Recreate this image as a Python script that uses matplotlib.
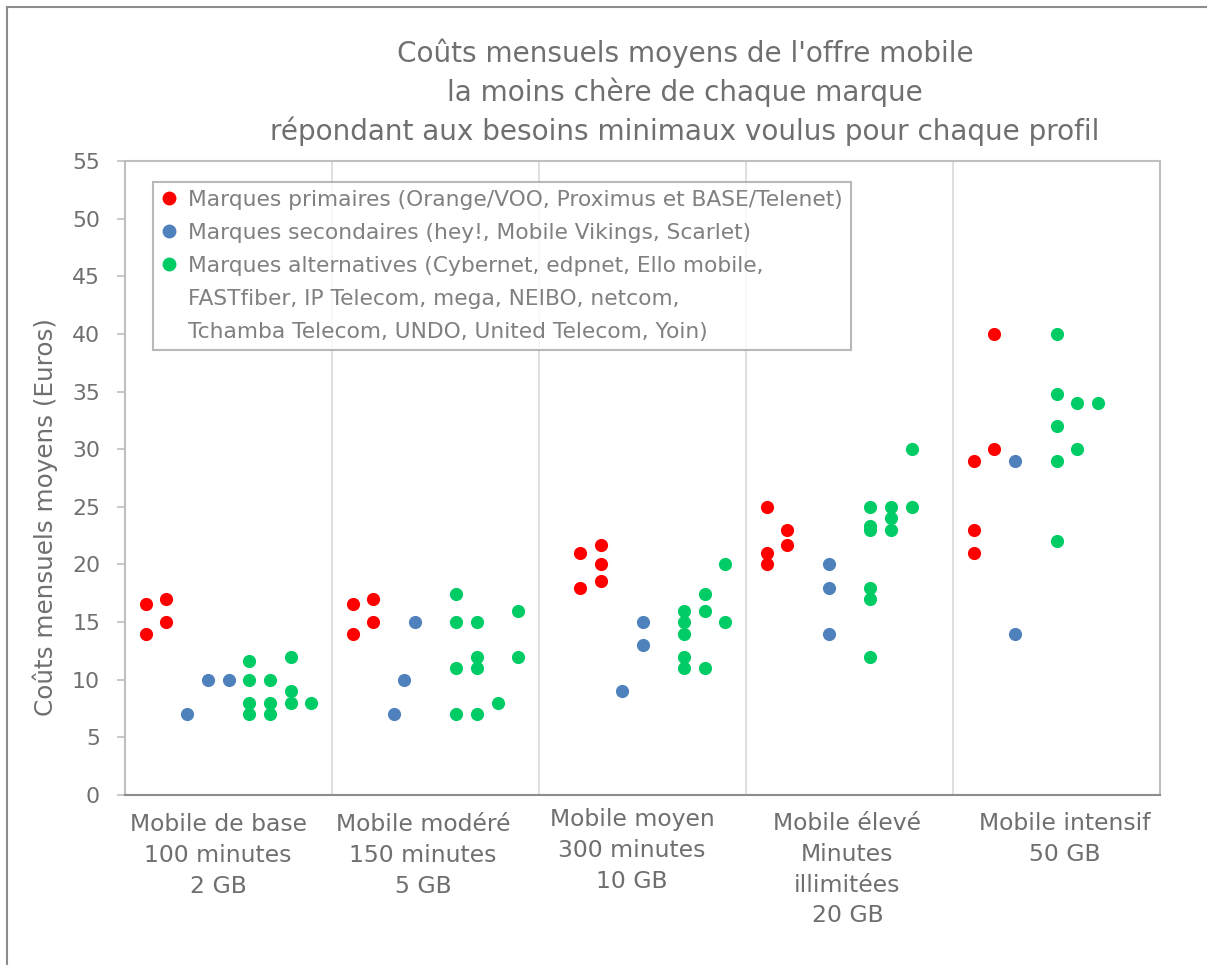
import matplotlib
matplotlib.use("Agg")
import matplotlib.pyplot as plt
from matplotlib.lines import Line2D
from matplotlib import transforms

# ---- data (x slot = tenth of a category, value in euros) ----
categories = [
    "Mobile de base\n100 minutes\n2 GB",
    "Mobile modéré\n150 minutes\n5 GB",
    "Mobile moyen\n300 minutes\n10 GB",
    "Mobile élevé\nMinutes\nillimitées\n20 GB",
    "Mobile intensif\n50 GB",
]

primary_cat = [0, 0, 0, 0, 1, 1, 1, 1, 2, 2, 2, 2, 2, 3, 3, 3, 3, 3, 4, 4, 4, 4, 4]
primary_slot = [1, 1, 2, 2, 1, 1, 2, 2, 2, 2, 3, 3, 3, 1, 1, 1, 2, 2, 1, 1, 1, 2, 2]
primary_val = [16.6, 14, 17, 15, 16.6, 14, 17, 15, 21, 18, 21.7, 20, 18.6,
               25, 21, 20, 23, 21.7, 29, 23, 21, 40, 30]

secondary_cat = [0, 0, 0, 1, 1, 1, 2, 2, 2, 3, 3, 3, 4, 4]
secondary_slot = [3, 4, 5, 3, 3.5, 4, 4, 5, 5, 4, 4, 4, 3, 3]
secondary_val = [7, 10, 10, 7, 10, 15, 9, 15, 13, 20, 18, 14, 29, 14]

alt_cat = ([0] * 11 + [1] * 11 + [2] * 10 + [3] * 11 + [4] * 8)
alt_slot = ([6, 6, 6, 6, 7, 7, 7, 8, 8, 8, 9,
             6, 6, 6, 6, 7, 7, 7, 7, 8, 9, 9,
             7, 7, 7, 7, 7, 8, 8, 8, 9, 9,
             6, 6, 6, 6, 6, 6, 7, 7, 7, 8, 8,
             5, 5, 5, 5, 5, 6, 6, 7])
alt_val = ([11.6, 10, 8, 7, 10, 8, 7, 12, 9, 8, 8,
            17.4, 15, 11, 7, 15, 12, 11, 7, 8, 16, 12,
            16, 15, 14, 12, 11, 17.4, 16, 11, 20, 15,
            25, 23.3, 23, 18, 17, 12, 25, 24, 23, 30, 25,
            40, 34.8, 32, 29, 22, 34, 30, 34])

legend_labels = [
    "Marques primaires (Orange/VOO, Proximus et BASE/Telenet)",
    "Marques secondaires (hey!, Mobile Vikings, Scarlet)",
    "Marques alternatives (Cybernet, edpnet, Ello mobile,",
    "FASTfiber, IP Telecom, mega, NEIBO, netcom,",
    "Tchamba Telecom, UNDO, United Telecom, Yoin)",
]

title = ("Coûts mensuels moyens de l'offre mobile\n"
         "la moins chère de chaque marque\n"
         "répondant aux besoins minimaux voulus pour chaque profil")

RED = "#ff0000"
BLUE = "#4f81bd"
GREEN = "#00cc66"
TXT = "#6f6f6f"
AXC = "#bfbfbf"

plt.rcParams['font.family'] = ['DejaVu Sans']

fig = plt.figure(figsize=(12.07, 9.65), dpi=100)
ax = fig.add_axes([125 / 1207, 1 - 795 / 965, 1035 / 1207, 634 / 965])


def xs(cats, slots):
    return [c + s / 10 for c, s in zip(cats, slots)]


size = 90
ax.scatter(xs(primary_cat, primary_slot), primary_val, s=size, color=RED,
           linewidths=0, zorder=3)
ax.scatter(xs(secondary_cat, secondary_slot), secondary_val, s=size,
           color=BLUE, linewidths=0, zorder=3)
ax.scatter(xs(alt_cat, alt_slot), alt_val, s=size, color=GREEN,
           linewidths=0, zorder=3)

ax.set_xlim(0, len(categories))
ax.set_ylim(0, 55)
ax.set_yticks(range(0, 56, 5))
ax.set_xticks(range(1, len(categories)))
ax.set_xticklabels([])
ax.tick_params(axis='x', length=0)
ax.tick_params(axis='y', length=6, width=1.2, color=AXC, labelcolor=TXT,
               labelsize=15.8, pad=12)
ax.xaxis.grid(True, color="#d9d9d9", linewidth=1.2)
ax.set_axisbelow(True)
for side in ['top', 'right', 'left']:
    ax.spines[side].set_color(AXC)
    ax.spines[side].set_linewidth(1.5)
ax.spines['bottom'].set_color("#8c8c8c")
ax.spines['bottom'].set_linewidth(1.5)

# category labels under each slot (text boxes sit slightly unevenly)
label_x = [0.45, 1.44, 2.45, 3.49, 4.54]
label_y = [-0.029, -0.029, -0.021, -0.027, -0.027]
trans = transforms.blended_transform_factory(ax.transData, ax.transAxes)
for lx, ly, lab in zip(label_x, label_y, categories):
    ax.text(lx, ly, lab, transform=trans, ha='center', va='top',
            fontsize=16.9, color=TXT, linespacing=1.43)

# legend (continuation lines get empty handles)
handles = [
    Line2D([], [], ls='none', marker='o', markersize=10, color=RED, mew=0),
    Line2D([], [], ls='none', marker='o', markersize=10, color=BLUE, mew=0),
    Line2D([], [], ls='none', marker='o', markersize=10, color=GREEN, mew=0),
    Line2D([], [], ls='none'),
    Line2D([], [], ls='none'),
]
leg = ax.legend(handles, legend_labels, loc='upper left',
                bbox_to_anchor=(28 / 1035, 1 - 21 / 634), borderaxespad=0,
                fontsize=15.7, labelcolor="#808080", frameon=True, fancybox=False,
                handlelength=0.8, handletextpad=0.47, labelspacing=0.6,
                borderpad=0.35)
leg.get_frame().set_edgecolor("#a6a6a6")
leg.get_frame().set_linewidth(1.5)

fig.text(685 / 1207, 1 - 92 / 965, title, ha='center', va='center',
         fontsize=20.1, color=TXT, linespacing=1.4)
fig.text(45 / 1207, 1 - 517 / 965, "Coûts mensuels moyens (Euros)",
         rotation=90, ha='center', va='center', fontsize=17.7, color=TXT)

# outer chart border (left and top edges visible)
fig.add_artist(Line2D([7 / 1207, 7 / 1207], [0, 1 - 7 / 965],
                      color="#8c8c8c", linewidth=1.5))
fig.add_artist(Line2D([7 / 1207, 1], [1 - 7 / 965, 1 - 7 / 965],
                      color="#8c8c8c", linewidth=1.5))

fig.savefig("out.png", dpi=100)
